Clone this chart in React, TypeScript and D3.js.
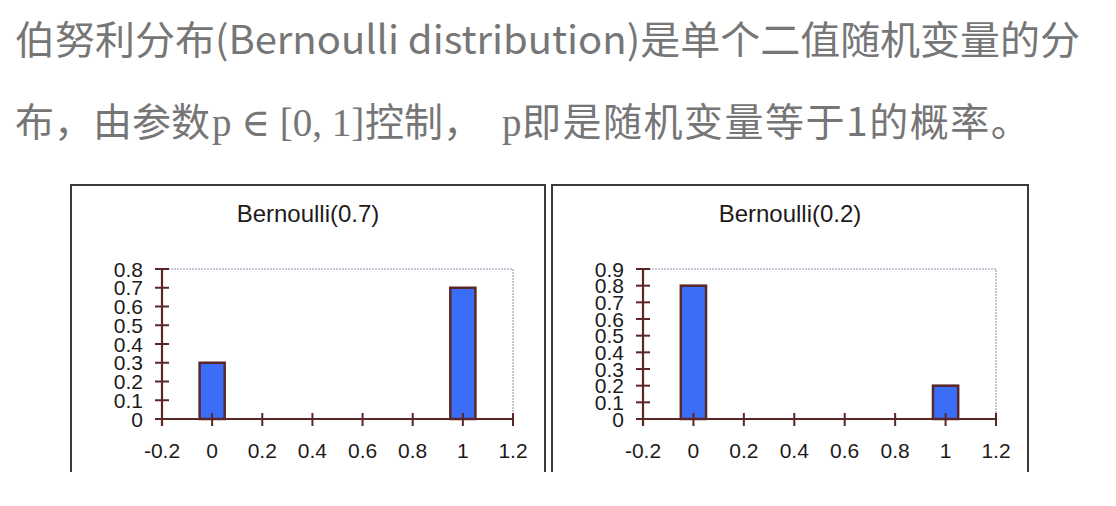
import React from "react";
import * as d3 from "d3";

const categories = [0, 1];
const probsA = [0.3, 0.7];
const probsB = [0.8, 0.2];
const titles = ["Bernoulli(0.7)", "Bernoulli(0.2)"];
const xTicks = [-0.2, 0, 0.2, 0.4, 0.6, 0.8, 1, 1.2];
const yTicksA = [0, 0.1, 0.2, 0.3, 0.4, 0.5, 0.6, 0.7, 0.8];
const yTicksB = [0, 0.1, 0.2, 0.3, 0.4, 0.5, 0.6, 0.7, 0.8, 0.9];
const barWidth = 0.1;

const AXIS = "#5a2626";
const BAR = "#3a6ef6";
const FONT = "'Liberation Sans', Arial, sans-serif";

type PanelProps = {
  left: number;
  right: number;
  axisX: number;
  plotRight: number;
  title: string;
  values: number[];
  yTicks: number[];
  yMax: number;
};

function Panel({ left, right, axisX, plotRight, title, values, yTicks, yMax }: PanelProps) {
  const top = 185;
  const bottom = 472;
  const x = d3.scaleLinear().domain([-0.2, 1.2]).range([axisX, plotRight]);
  const y = d3.scaleLinear().domain([0, yMax]).range([419, 269]);
  const y0 = y(0);
  const yTop = y(yMax);
  const fmtY = (d: number) => (d === 0 ? "0" : d.toFixed(1));
  return (
    <g>
      <path
        d={`M${left},${bottom} V${top} H${right} V${bottom}`}
        fill="none"
        stroke="#3a3a3a"
        strokeWidth={2}
      />
      <text
        x={(left + right) / 2}
        y={222}
        textAnchor="middle"
        fontFamily={FONT}
        fontSize={24}
        fill="#1e1a1a"
      >
        {title}
      </text>
      <path
        d={`M${axisX},${yTop} H${plotRight} V${y0}`}
        fill="none"
        stroke="#8f8fb0"
        strokeWidth={1}
        strokeDasharray="2,1"
      />
      {categories.map((c, i) => (
        <rect
          key={c}
          x={x(c - barWidth / 2)}
          y={y(values[i])}
          width={x(c + barWidth / 2) - x(c - barWidth / 2)}
          height={y0 - y(values[i])}
          fill={BAR}
          stroke={AXIS}
          strokeWidth={2.5}
        />
      ))}
      <line x1={axisX} x2={plotRight} y1={y0} y2={y0} stroke={AXIS} strokeWidth={2.2} />
      {xTicks.map((t) => (
        <g key={t}>
          <line x1={x(t)} x2={x(t)} y1={y0 - 6} y2={y0 + 7} stroke={AXIS} strokeWidth={2} />
          <text
            x={x(t)}
            y={458}
            textAnchor="middle"
            fontFamily={FONT}
            fontSize={21}
            fill="#1e1a1a"
          >
            {String(t)}
          </text>
        </g>
      ))}
      <line x1={axisX} x2={axisX} y1={yTop - 1} y2={y0 + 7} stroke={AXIS} strokeWidth={2.2} />
      {yTicks.map((t) => (
        <g key={t}>
          <line x1={axisX - 7} x2={axisX + 7} y1={y(t)} y2={y(t)} stroke={AXIS} strokeWidth={2} />
          <text
            x={axisX - 19}
            y={y(t)}
            dy="0.36em"
            textAnchor="end"
            fontFamily={FONT}
            fontSize={21}
            fill="#1e1a1a"
          >
            {fmtY(t)}
          </text>
        </g>
      ))}
    </g>
  );
}

export default function App() {
  const cjk = "'Noto Sans CJK SC', 'Noto Sans', sans-serif";
  const serif = "'Liberation Serif', 'DejaVu Serif', serif";
  return (
    <div style={{ position: "fixed", left: 0, top: 0 }}>
      <svg width={1116} height={506} style={{ display: "block", background: "#fff" }}>
        <text x={15} y={54} fontFamily={cjk} fontSize={39} fill="#767676" textLength={1065} lengthAdjust="spacingAndGlyphs">
          伯努利分布(Bernoulli distribution)是单个二值随机变量的分
        </text>
        <text y={136} fontFamily={cjk} fontSize={39} fill="#767676">
          <tspan x={15}>布，由参数</tspan>
          <tspan x={212} fontFamily={serif}>p ∈ [0, 1]</tspan>
          <tspan x={365}>控制，</tspan>
          <tspan x={502} fontFamily={serif}>p</tspan>
          <tspan x={522} letterSpacing={1.5}>即是随机变量等于1的概率。</tspan>
        </text>
        <Panel
          left={71}
          right={545}
          axisX={162}
          plotRight={513}
          title={titles[0]}
          values={probsA}
          yTicks={yTicksA}
          yMax={0.8}
        />
        <Panel
          left={552}
          right={1028}
          axisX={643}
          plotRight={996}
          title={titles[1]}
          values={probsB}
          yTicks={yTicksB}
          yMax={0.9}
        />
      </svg>
    </div>
  );
}
